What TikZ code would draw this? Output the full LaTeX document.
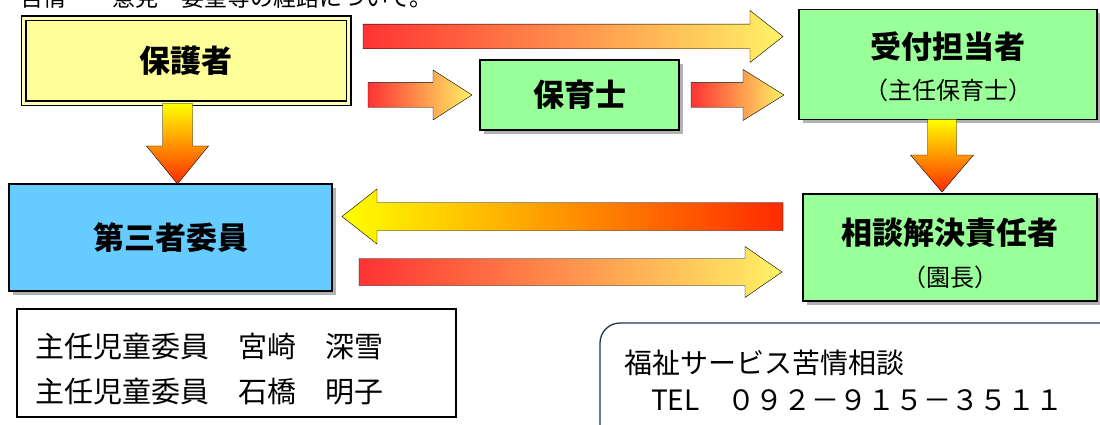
\documentclass[tikz,border=0pt]{standalone}
\usepackage{fontspec}
\setmainfont{Noto Sans CJK JP}
\usetikzlibrary{calc,shadows}

\definecolor{boxgreen}{HTML}{99FF99}
\definecolor{boxblue}{HTML}{66CCFF}
\definecolor{boxyellow}{HTML}{FFFF99}
\definecolor{palerim}{HTML}{FFFFB8}
\definecolor{telrim}{HTML}{1F3459}
\definecolor{flowred}{HTML}{FF3333}
\definecolor{floworange}{HTML}{FFA04A}
\definecolor{flowyellow}{HTML}{FFF266}
\definecolor{hotred}{HTML}{FF2A00}
\definecolor{hotorange}{HTML}{FFB000}
\definecolor{hotyellow}{HTML}{FFFF00}

\newcommand\boxfont{\bfseries\fontsize{31}{36}\selectfont}
\newcommand\subfont{\fontsize{24}{28}\selectfont}
\newcommand\listfont{\fontsize{29}{33}\selectfont}
\newcommand\telfont{\fontsize{28}{32}\selectfont}

\tikzset{
  box/.style={draw=black, line width=1.6pt, inner sep=0pt, outer sep=0pt, font=\boxfont},
  shadowbox/.style={box, drop shadow={shadow xshift=4pt, shadow yshift=-4pt, opacity=.3, fill=black}},
  flow/.style n args={3}{draw=black, line width=1.4pt, line join=miter, to path={
      ($(\tikztotarget)!#3!(\tikztostart)$) coordinate (fb)
      ($(\tikztostart)!#1!90:(\tikztotarget)$) -- ($(fb)!#1!90:(\tikztotarget)$)
      -- ($(fb)!#2!90:(\tikztotarget)$) -- (\tikztotarget)
      -- ($(fb)!#2!-90:(\tikztotarget)$) -- ($(fb)!#1!-90:(\tikztotarget)$)
      -- ($(\tikztostart)!#1!-90:(\tikztotarget)$) -- cycle}},
  warm/.style={left color=flowred, middle color=floworange, right color=flowyellow},
  back/.style={left color=hotyellow, middle color=hotorange, right color=hotred},
  down/.style={top color=hotyellow, middle color=hotorange, bottom color=hotred},
}

\begin{document}
\begin{tikzpicture}[x=1pt, y=-1pt]
  \useasboundingbox (0,0) rectangle (1100,425);
  \clip (0,0) rectangle (1100,425);

  % title, cut by the top edge
  \node[anchor=base west, inner sep=0pt, font=\fontsize{23}{27}\selectfont] (title) at (-3,6.5) {・苦情・　意見・要望等の経路について。};

  % boxes
  \node[box, fill=boxyellow, double=palerim, double distance=3pt, line width=1.5pt,
        minimum width=325, minimum height=85] (hogo) at (186,61) {保護者};
  \node[shadowbox, fill=boxgreen, minimum width=199, minimum height=70] (hoiku) at (579.5,95) {保育士};
  \node[shadowbox, fill=boxgreen, minimum width=298, minimum height=110] (uke) at (948,64.5) {};
  \node[shadowbox, fill=boxblue, minimum width=323, minimum height=107] (daisan) at (170.5,237.5) {第三者委員};
  \node[shadowbox, fill=boxgreen, minimum width=294, minimum height=107] (soudan) at (950,247.5) {};

  \node[font=\boxfont] (uke-t) at ([yshift=17.5pt]uke.center) {受付担当者};
  \node[font=\subfont] (uke-s) at ([yshift=-25.5pt]uke.center) {（主任保育士）};
  \node[font=\boxfont] (soudan-t) at ([yshift=14.5pt]soudan.center) {相談解決責任者};
  \node[font=\subfont] (soudan-s) at ([yshift=-29.5pt]soudan.center) {（園長）};

  % arrow ends
  \coordinate (a1s) at ([xshift=14.5pt]hogo.east |- 0,36.5);
  \coordinate (a1e) at ([xshift=-16pt]uke.west |- 0,36.5);
  \coordinate (a2s) at ([xshift=19.5pt]hogo.east |- hoiku.west);
  \coordinate (a2e) at ([xshift=-8pt]hoiku.west);
  \coordinate (a3s) at ([xshift=12pt]hoiku.east);
  \coordinate (a3e) at ([xshift=-15pt]uke.west |- hoiku.east);
  \coordinate (d1s) at (hogo.south -| 177.5,0);
  \coordinate (d1e) at (daisan.north -| 177.5,0);
  \coordinate (d2s) at (uke.south -| 942,0);
  \coordinate (d2e) at ([yshift=2pt]soudan.north -| 942,0);
  \coordinate (l1s) at ([xshift=-20pt]soudan.west |- 0,216.5);
  \coordinate (l1e) at ([xshift=10pt]daisan.east |- 0,216.5);
  \coordinate (r1s) at ([xshift=27pt]daisan.east |- 0,272);
  \coordinate (r1e) at ([xshift=-21pt]soudan.west |- 0,272);

  % arrows
  \shadedraw[warm] (a1s) to[flow={12.3pt}{26pt}{33pt}] (a1e);
  \shadedraw[warm] (a2s) to[flow={12.3pt}{25pt}{39pt}] (a2e);
  \shadedraw[warm] (a3s) to[flow={12.3pt}{25.5pt}{41pt}] (a3e);
  \shadedraw[down] (d1s) to[flow={15pt}{31pt}{38pt}] (d1e);
  \shadedraw[down] (d2s) to[flow={14.5pt}{31.5pt}{37pt}] (d2e);
  \shadedraw[back] (l1s) to[flow={14pt}{27.5pt}{35pt}] (l1e);
  \shadedraw[warm] (r1s) to[flow={13.5pt}{25.5pt}{37pt}] (r1e);

  % committee members
  \node[draw=black, line width=1.3pt, minimum width=439, minimum height=108] (iin) at (236.5,363) {};
  \node[anchor=west, inner sep=0pt, font=\listfont] (iin1) at (35,347) {主任児童委員　宮崎　深雪};
  \node[anchor=west, inner sep=0pt, font=\listfont] (iin2) at (35,392) {主任児童委員　石橋　明子};

  % phone box
  \node[draw=telrim, line width=1.3pt, rounded corners=20pt, minimum width=530, minimum height=127] (tel) at (865,386.5) {};
  \node[anchor=west, inner sep=0pt, font=\telfont] (tel1) at (624,363) {福祉サービス苦情相談};
  \node[anchor=west, inner sep=0pt, font=\telfont] (tel2) at (651,400) {TEL　０９２－９１５－３５１１};
\end{tikzpicture}
\end{document}
